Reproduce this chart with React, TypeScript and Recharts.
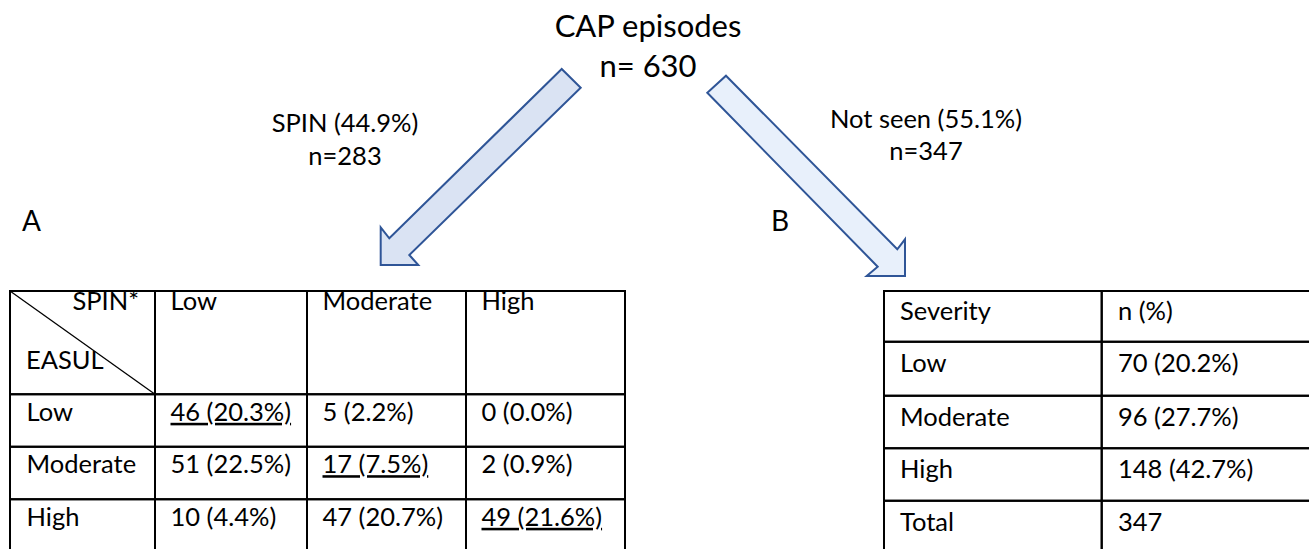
import { ComposedChart, XAxis, YAxis, Scatter, ReferenceArea, ReferenceLine } from 'recharts';

const W = 1309;
const H = 549;

// values
const totalEpisodes = 630;
const spinN = 283;
const spinShare = 44.9;
const notSeenN = 347;
const notSeenShare = 55.1;

const spinLevels = ['Low', 'Moderate', 'High'];
const easulLevels = ['Low', 'Moderate', 'High'];
const crossCounts = [
  [46, 5, 0],
  [51, 17, 2],
  [10, 47, 49],
];
const crossPct = [
  [20.3, 2.2, 0.0],
  [22.5, 7.5, 0.9],
  [4.4, 20.7, 21.6],
];

const severityLevels = ['Low', 'Moderate', 'High', 'Total'];
const notSeenCounts = [70, 96, 148, 347];
const notSeenPct = [20.2, 27.7, 42.7, null];

// layout (pixel units, the axes map 1:1)
const aCols = [10, 155, 307, 466, 625];
const aRows = [291, 394.3, 446.7, 499.3, 552];
const bCols = [884, 1101.7, 1315];
const bRows = [291, 341.7, 395.7, 448.3, 500.7, 553];

const FONT = 'Lato, "Open Sans", sans-serif';
const TABLE_SIZE = 25.5;
const LABEL_SIZE = 25.5;

type TextItem = { x: number; y: number; text: string; size: number; anchor?: string; underline?: boolean };

const fmt = (n: number, p: number | null) => (p === null ? `${n}` : `${n} (${p.toFixed(1)}%)`);

const texts: TextItem[] = [
  { x: 648, y: 37, text: 'CAP episodes', size: 31, anchor: 'middle' },
  { x: 648, y: 77, text: `n= ${totalEpisodes}`, size: 31, anchor: 'middle' },
  { x: 345, y: 132, text: `SPIN (${spinShare}%)`, size: LABEL_SIZE, anchor: 'middle' },
  { x: 345, y: 165, text: `n=${spinN}`, size: LABEL_SIZE, anchor: 'middle' },
  { x: 926, y: 128, text: `Not seen (${notSeenShare}%)`, size: LABEL_SIZE, anchor: 'middle' },
  { x: 926, y: 160, text: `n=${notSeenN}`, size: LABEL_SIZE, anchor: 'middle' },
  { x: 22, y: 231, text: 'A', size: 28 },
  { x: 771, y: 231, text: 'B', size: 28 },
  // table A header
  { x: 139, y: 310, text: 'SPIN*', size: TABLE_SIZE, anchor: 'end' },
  { x: 26, y: 369, text: 'EASUL', size: TABLE_SIZE },
];

spinLevels.forEach((lvl, j) => {
  texts.push({ x: aCols[j + 1] + 15.5, y: 310, text: lvl, size: TABLE_SIZE });
});
easulLevels.forEach((lvl, i) => {
  const base = aRows[i + 1] + 26.5;
  texts.push({ x: 26.5, y: base, text: lvl, size: TABLE_SIZE });
  crossCounts[i].forEach((n, j) => {
    texts.push({
      x: aCols[j + 1] + 15.5,
      y: base,
      text: fmt(n, crossPct[i][j]),
      size: TABLE_SIZE,
      underline: i === j,
    });
  });
});

// table B
texts.push({ x: 900, y: 320, text: 'Severity', size: TABLE_SIZE });
texts.push({ x: 1118, y: 320, text: 'n (%)', size: TABLE_SIZE });
severityLevels.forEach((lvl, i) => {
  const base = bRows[i + 1] + 30;
  texts.push({ x: 900, y: base, text: lvl, size: TABLE_SIZE });
  texts.push({ x: 1118, y: base, text: fmt(notSeenCounts[i], notSeenPct[i]), size: TABLE_SIZE });
});

// arrows: anchor = tail centre, outline as offsets from it
const arrows = [
  {
    x: 571,
    y: 78,
    fill: '#dae3f3',
    pts: [
      [-9.3, -9], [-181.7, 160.3], [-190.3, 149.3], [-190.3, 187], [-152.7, 187], [-161.7, 177], [9.7, 9.7],
    ],
  },
  {
    x: 716.5,
    y: 84,
    fill: '#e8f0fb',
    pts: [
      [9.5, -8.3], [180.8, 165.3], [188.5, 155.3], [188.5, 192], [150.2, 192], [161.2, 182.7], [-9.2, 8.7],
    ],
  },
];

const TextShape = (props: any) => {
  const { cx, cy, payload } = props;
  return (
    <text
      x={cx}
      y={cy}
      textAnchor={payload.anchor || 'start'}
      fontFamily={FONT}
      fontSize={payload.size}
      fill="#000"
      style={payload.underline ? { textDecoration: 'underline' } : undefined}
    >
      {payload.text}
    </text>
  );
};

const ArrowShape = (props: any) => {
  const { cx, cy, payload } = props;
  const points = payload.pts.map((p: number[]) => `${cx + p[0]},${cy + p[1]}`).join(' ');
  return <polygon points={points} fill={payload.fill} stroke="#2f5597" strokeWidth={2} strokeLinejoin="miter" />;
};

const cellsA: { x1: number; x2: number; y1: number; y2: number }[] = [];
for (let i = 0; i < aRows.length - 1; i++)
  for (let j = 0; j < aCols.length - 1; j++)
    cellsA.push({ x1: aCols[j], x2: aCols[j + 1], y1: aRows[i], y2: aRows[i + 1] });

const cellsB: { x1: number; x2: number; y1: number; y2: number }[] = [];
for (let i = 0; i < bRows.length - 1; i++)
  for (let j = 0; j < bCols.length - 1; j++)
    cellsB.push({ x1: bCols[j], x2: bCols[j + 1], y1: bRows[i], y2: bRows[i + 1] });

export default function App() {
  return (
    <div style={{ position: 'absolute', left: 0, top: 0, width: W, height: H, background: '#fff' }}>
      <ComposedChart width={W} height={H} margin={{ top: 0, right: 0, bottom: 0, left: 0 }}>
        <XAxis type="number" dataKey="x" domain={[0, W]} hide allowDataOverflow />
        <YAxis type="number" dataKey="y" domain={[0, H]} reversed hide allowDataOverflow />
        {[...cellsA, ...cellsB].map((c, k) => (
          <ReferenceArea
            key={k}
            x1={c.x1}
            x2={c.x2}
            y1={c.y1}
            y2={c.y2}
            fill="none"
            fillOpacity={0}
            stroke="#000"
            strokeWidth={2}
            ifOverflow="visible"
          />
        ))}
        <ReferenceLine
          segment={[{ x: aCols[0], y: aRows[0] }, { x: aCols[1], y: aRows[1] }]}
          stroke="#000"
          strokeWidth={1.3}
          ifOverflow="visible"
        />
        <Scatter data={arrows} shape={ArrowShape} isAnimationActive={false} />
        <Scatter data={texts} shape={TextShape} isAnimationActive={false} />
      </ComposedChart>
    </div>
  );
}
